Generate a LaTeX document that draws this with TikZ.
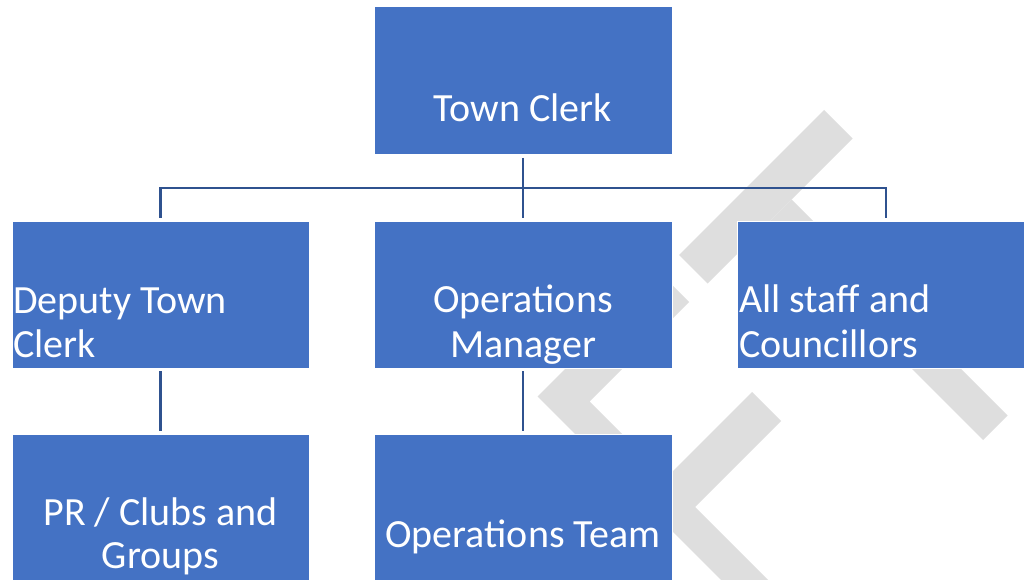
\documentclass[tikz,border=0pt]{standalone}
\usepackage{fontspec}
\setmainfont{Carlito}
\definecolor{boxblue}{HTML}{4472C4}
\definecolor{linkblue}{HTML}{2F528F}
\definecolor{wmgrey}{HTML}{DEDEDE}
\begin{document}
\begin{tikzpicture}[x=1pt,y=-1pt,
  box/.style={fill=boxblue, draw=white, line width=1pt, inner sep=0pt, outer sep=0pt,
              minimum width=297pt, minimum height=147pt},
  conn/.style={draw=linkblue, line width=2.2pt},
  lbl/.style={text=white, font=\fontsize{40}{44}\selectfont, inner sep=0pt},
  wm/.style={fill=wmgrey, draw=none}]
\useasboundingbox (0,0) rectangle (1024,580);
\clip (0,0) rectangle (1024,580);
\fill[white] (0,0) rectangle (1024,580);
% watermark
\fill[wm] (824,110) -- (852.5,138.5) -- (707.5,283.5) -- (679,255) -- cycle;
\fill[wm] (791.5,199.5) -- (1007.5,415.5) -- (983,440) -- (767,224) -- cycle;
\fill[wm] (660.5,273.5) -- (689,302) -- (589.5,401.5) -- (844,656) -- (820.5,679.5) -- (537.5,396.5) -- cycle;
\fill[wm] (752,392) -- (781,421) -- (695,507) -- (642.5,501.5) -- cycle;
% boxes
\node[box, minimum width=298pt, minimum height=148pt] (tc) at (523,81) {};
\node[box] (dep) at (160.5,294.5) {};
\node[box, minimum width=298pt] (om) at (523,294.5) {};
\node[box, minimum width=298pt] (all) at (886,294.5) {};
\node[box] (pr) at (160.5,507.5) {};
\node[box, minimum width=298pt] (ot) at (523,507.5) {};
% connectors
\coordinate (bus) at (523,188);
\draw[conn, shorten <=3pt] (tc.south) -- (bus);
\draw[conn, shorten >=3pt] (bus) -| (dep.north);
\draw[conn, shorten >=3pt] (bus) -| (all.north);
\draw[conn, shorten >=3pt] (bus) -- (om.north);
\draw[conn, shorten <=3pt, shorten >=3pt] (dep.south) -- (pr.north);
\draw[conn, shorten <=3pt, shorten >=3pt] (om.south) -- (ot.north);
% labels
\node[lbl, anchor=base] (ttc) at (523,122) {Town Clerk};
\node[lbl, anchor=base west] (tdep1) at (13,313) {Deputy Town};
\node[lbl, anchor=base west] (tdep2) at (13,357) {Clerk};
\node[lbl, anchor=base] (tom1) at (523,312) {Operations};
\node[lbl, anchor=base] (tom2) at (523,357) {Manager};
\node[lbl, anchor=base west] (tall1) at (739,312) {All staff and};
\node[lbl, anchor=base west] (tall2) at (739,357) {Councillors};
\node[lbl, anchor=base] (tpr1) at (160.5,525) {PR / Clubs and};
\node[lbl, anchor=base] (tpr2) at (160.5,568) {Groups};
\node[lbl, anchor=base] (tot) at (523,547) {Operations Team};
\end{tikzpicture}
\end{document}
